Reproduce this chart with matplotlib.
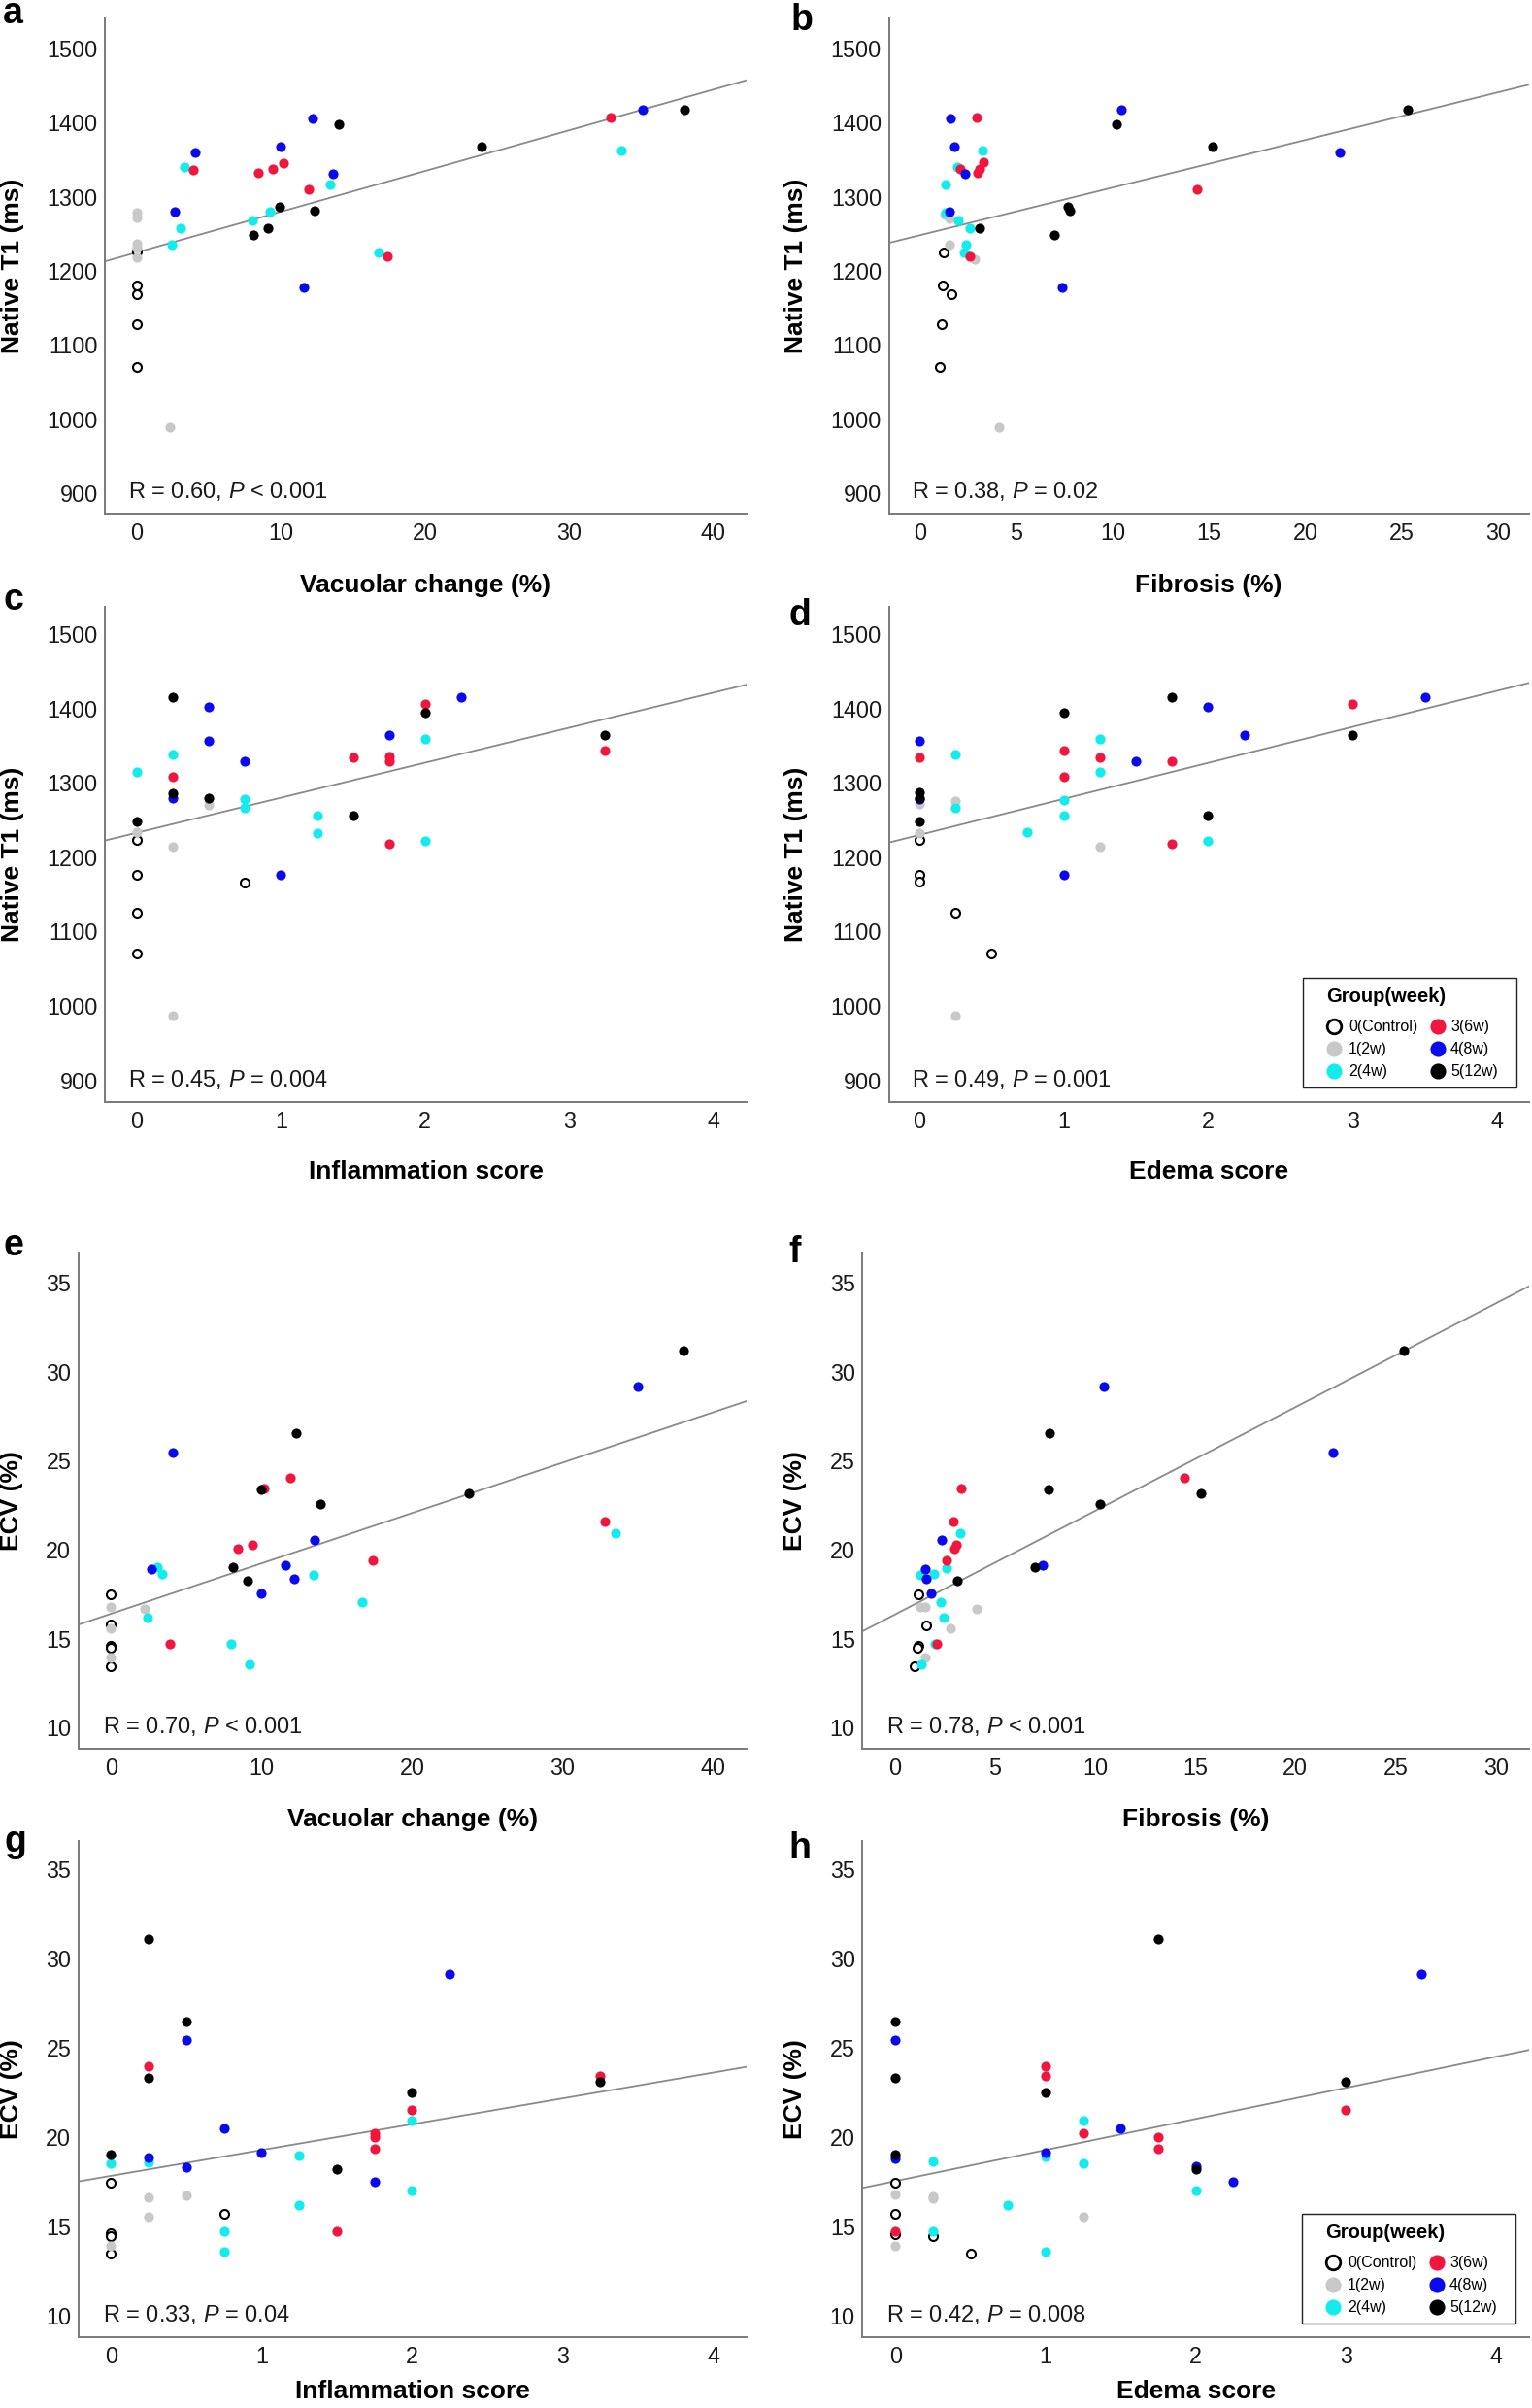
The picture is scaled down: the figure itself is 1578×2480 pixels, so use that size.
import numpy as np
import matplotlib
matplotlib.use("Agg")
from matplotlib import pyplot as plt
from matplotlib.patches import Rectangle

plt.rcParams['font.family'] = ['Liberation Sans', 'DejaVu Sans']
plt.rcParams['mathtext.fontset'] = 'custom'
plt.rcParams['mathtext.rm'] = 'Liberation Sans'
plt.rcParams['mathtext.it'] = 'Liberation Sans:italic'

# group codes: 0 control, 1 = 2w, 2 = 4w, 3 = 6w, 4 = 8w, 5 = 12w
group_names = ['0(Control)', '1(2w)', '2(4w)', '3(6w)', '4(8w)', '5(12w)']
group_colors = ['white', '#c8c8c8', '#12ecec', '#f0163e', '#0a0aee', '#000000']

# ---- a: vacuolar change vs native T1
a_x = [0, 0, 0, 0, 0,
       0, 0, 0, 0, 0, 2.3,
       3.3, 3.0, 2.4, 8.0, 9.2, 13.4, 16.75, 33.6,
       3.9, 8.4, 9.4, 10.2, 11.9, 17.4, 32.9,
       4.05, 2.65, 10.0, 12.2, 13.6, 11.6, 35.1,
       8.1, 9.1, 9.9, 12.3, 14.0, 23.9, 38.0]
a_y = [1226, 1180, 1169, 1128, 1071,
       1278, 1272, 1236, 1231, 1218, 989,
       1340, 1257, 1235, 1268, 1280, 1317, 1225, 1362,
       1336, 1332, 1337, 1345, 1310, 1220, 1407,
       1359, 1280, 1367, 1405, 1331, 1178, 1417,
       1249, 1258, 1287, 1281, 1397, 1367, 1417]
a_g = [0, 0, 0, 0, 0,
       1, 1, 1, 1, 1, 1,
       2, 2, 2, 2, 2, 2, 2, 2,
       3, 3, 3, 3, 3, 3, 3,
       4, 4, 4, 4, 4, 4, 4,
       5, 5, 5, 5, 5, 5, 5]

# ---- b: fibrosis vs native T1
b_x = [1.25, 1.2, 1.65, 1.15, 1.05,
       1.3, 1.55, 1.55, 2.85, 4.1,
       3.25, 1.95, 1.35, 1.35, 2.0, 2.6, 2.4, 2.3,
       2.95, 2.1, 3.0, 3.1, 3.3, 2.6, 14.4,
       1.6, 1.8, 2.35, 1.55, 10.45, 7.4, 21.8,
       3.1, 7.0, 7.7, 7.8, 10.2, 15.2, 25.3]
b_y = [1225, 1180, 1168, 1128, 1071,
       1276, 1271, 1235, 1216, 989,
       1362, 1340, 1317, 1279, 1268, 1257, 1235, 1225,
       1407, 1337, 1332, 1338, 1346, 1220, 1310,
       1405, 1367, 1331, 1280, 1417, 1178, 1359,
       1258, 1249, 1287, 1281, 1397, 1367, 1417]
b_g = [0, 0, 0, 0, 0,
       1, 1, 1, 1, 1,
       2, 2, 2, 2, 2, 2, 2, 2,
       3, 3, 3, 3, 3, 3, 3,
       4, 4, 4, 4, 4, 4, 4,
       5, 5, 5, 5, 5, 5, 5]

# ---- c: inflammation score vs native T1
c_x = [0, 0, 0, 0, 0.75,
       0, 0.25, 0.25, 0.5,
       0, 0.25, 0.75, 0.75, 1.25, 1.25, 2.0, 2.0,
       0.25, 1.5, 1.75, 1.75, 1.75, 2.0, 3.25,
       0.25, 0.5, 0.5, 0.75, 1.0, 1.75, 2.25,
       0, 0.25, 0.25, 0.5, 1.5, 2.0, 3.25]
c_y = [1224, 1177, 1126, 1070, 1166,
       1234, 1214, 987, 1270,
       1315, 1338, 1278, 1266, 1256, 1233, 1359, 1222,
       1308, 1335, 1336, 1329, 1218, 1406, 1343,
       1279, 1403, 1357, 1329, 1176, 1365, 1415,
       1248, 1415, 1286, 1279, 1256, 1395, 1365]
c_g = [0, 0, 0, 0, 0,
       1, 1, 1, 1,
       2, 2, 2, 2, 2, 2, 2, 2,
       3, 3, 3, 3, 3, 3, 3,
       4, 4, 4, 4, 4, 4, 4,
       5, 5, 5, 5, 5, 5, 5]

# ---- d: edema score vs native T1
d_x = [0, 0, 0, 0.25, 0.5,
       0, 0, 0.25, 1.25, 0.25,
       0.25, 0.25, 0.75, 1, 1, 1.25, 1.25, 2,
       0, 1, 1, 1.25, 1.75, 1.75, 3,
       0, 0, 1, 1.5, 2, 2.25, 3.5,
       0, 0, 0, 1, 1.75, 2, 3]
d_y = [1224, 1177, 1167, 1126, 1070,
       1272, 1232, 1276, 1214, 987,
       1338, 1266, 1234, 1277, 1256, 1359, 1315, 1222,
       1335, 1343, 1308, 1335, 1329, 1218, 1406,
       1357, 1278, 1176, 1329, 1403, 1365, 1415,
       1287, 1279, 1248, 1395, 1415, 1256, 1365]
d_g = [0, 0, 0, 0, 0,
       1, 1, 1, 1, 1,
       2, 2, 2, 2, 2, 2, 2, 2,
       3, 3, 3, 3, 3, 3, 3,
       4, 4, 4, 4, 4, 4, 4,
       5, 5, 5, 5, 5, 5, 5]

# ---- e: vacuolar change vs ECV
e_x = [0, 0, 0, 0, 0,
       0, 0, 0, 2.25,
       2.45, 3.05, 3.4, 8.0, 9.2, 13.45, 16.7, 33.5,
       3.9, 8.4, 9.4, 10.15, 11.9, 17.4, 32.8,
       2.7, 4.1, 10.0, 11.6, 12.2, 13.55, 35.0,
       8.1, 9.1, 9.95, 12.3, 13.9, 23.8, 38.0]
e_y = [17.46, 15.78, 14.6, 14.5, 13.47,
       16.75, 15.56, 13.94, 16.68,
       16.2, 19.0, 18.64, 14.72, 13.58, 18.56, 17.05, 20.93,
       14.72, 20.07, 20.24, 23.43, 24.03, 19.37, 21.57,
       18.88, 25.47, 17.54, 19.14, 18.34, 20.52, 29.16,
       19.0, 18.25, 23.36, 26.53, 22.54, 23.15, 31.16]
e_g = [0, 0, 0, 0, 0,
       1, 1, 1, 1,
       2, 2, 2, 2, 2, 2, 2, 2,
       3, 3, 3, 3, 3, 3, 3,
       4, 4, 4, 4, 4, 4, 4,
       5, 5, 5, 5, 5, 5, 5]

# ---- f: fibrosis vs ECV
f_x = [1.2, 1.6, 1.2, 1.15, 1.0,
       1.3, 1.55, 2.8, 1.55, 4.1,
       1.3, 1.95, 2.6, 2.3, 2.45, 2.0, 1.35, 3.25,
       2.1, 2.6, 3.0, 3.1, 2.95, 3.3, 14.45,
       1.55, 1.6, 1.8, 2.35, 7.4, 10.45, 21.85,
       3.15, 7.0, 7.75, 7.7, 10.25, 15.3, 25.4]
f_y = [17.46, 15.73, 14.59, 14.48, 13.47,
       16.75, 16.75, 15.56, 13.94, 16.64,
       18.58, 18.64, 18.97, 17.03, 16.2, 14.72, 13.58, 20.93,
       14.72, 19.37, 20.07, 20.24, 21.57, 23.43, 24.03,
       18.88, 18.34, 17.54, 20.52, 19.14, 29.16, 25.47,
       18.23, 19.0, 26.53, 23.36, 22.54, 23.15, 31.16]
f_g = [0, 0, 0, 0, 0,
       1, 1, 1, 1, 1,
       2, 2, 2, 2, 2, 2, 2, 2,
       3, 3, 3, 3, 3, 3, 3,
       4, 4, 4, 4, 4, 4, 4,
       5, 5, 5, 5, 5, 5, 5]

# ---- g: inflammation score vs ECV
g_x = [0, 0, 0, 0, 0.75,
       0, 0.25, 0.25, 0.5,
       0, 0.25, 0.75, 0.75, 1.25, 1.25, 2.0, 2.0,
       0.25, 1.5, 1.75, 1.75, 1.75, 2.0, 3.25,
       0.25, 0.5, 0.5, 0.75, 1.0, 1.75, 2.25,
       0, 0.25, 0.25, 0.5, 1.5, 2.0, 3.25]
g_y = [17.42, 14.61, 14.46, 13.45, 15.71,
       13.93, 16.62, 15.54, 16.75,
       18.5, 18.59, 14.7, 13.55, 18.95, 16.18, 20.91, 17.02,
       23.98, 14.7, 20.2, 20.0, 19.35, 21.53, 23.43,
       18.84, 25.42, 18.29, 20.47, 19.1, 17.51, 29.1,
       18.99, 31.09, 23.32, 26.48, 18.21, 22.48, 23.11]
g_g = [0, 0, 0, 0, 0,
       1, 1, 1, 1,
       2, 2, 2, 2, 2, 2, 2, 2,
       3, 3, 3, 3, 3, 3, 3,
       4, 4, 4, 4, 4, 4, 4,
       5, 5, 5, 5, 5, 5, 5]

# ---- h: edema score vs ECV
h_x = [0, 0, 0, 0.25, 0.5,
       0, 0.25, 0.25, 0, 1.25,
       0.25, 0.25, 0.75, 1.0, 1.0, 1.25, 1.25, 2.0,
       0, 1.0, 1.0, 1.25, 1.75, 1.75, 3.0,
       0, 0, 1.0, 1.5, 2.0, 2.25, 3.5,
       0, 0, 0, 1.0, 1.75, 2.0, 3.0]
h_y = [17.42, 15.71, 14.55, 14.44, 13.45,
       16.77, 16.68, 16.58, 13.93, 15.54,
       18.61, 14.7, 16.18, 18.93, 13.55, 20.89, 18.5, 17.02,
       14.7, 23.98, 23.39, 20.2, 20.0, 19.35, 21.53,
       18.8, 25.42, 19.14, 20.47, 18.36, 17.51, 29.1,
       26.48, 23.32, 18.99, 22.48, 31.09, 18.21, 23.11]
h_g = [0, 0, 0, 0, 0,
       1, 1, 1, 1, 1,
       2, 2, 2, 2, 2, 2, 2, 2,
       3, 3, 3, 3, 3, 3, 3,
       4, 4, 4, 4, 4, 4, 4,
       5, 5, 5, 5, 5, 5, 5]

# regression lines: (intercept, slope)
fits = {'a': (1225, 5.48), 'b': (1248, 6.42), 'c': (1233, 47.1), 'd': (1230, 48.5),
        'e': (16.39, 0.283), 'f': (16.34, 0.583), 'g': (17.82, 1.445), 'h': (17.53, 1.739)}
stats = {'a': ('0.60', '<', '0.001'), 'b': ('0.38', '=', '0.02'),
         'c': ('0.45', '=', '0.004'), 'd': ('0.49', '=', '0.001'),
         'e': ('0.70', '<', '0.001'), 'f': ('0.78', '<', '0.001'),
         'g': ('0.33', '=', '0.04'), 'h': ('0.42', '=', '0.008')}

t1_ticks = [900, 1000, 1100, 1200, 1300, 1400, 1500]
ecv_ticks = [10, 15, 20, 25, 30, 35]
vac_ticks = [0, 10, 20, 30, 40]
fib_ticks = [0, 5, 10, 15, 20, 25, 30]
score_ticks = [0, 1, 2, 3, 4]

W, H = 1578, 2480

panels = [
    ('a', a_x, a_y, a_g, [0.0687, 0.7867, 0.4184, 0.2056], (-2.2, 42.3), (873, 1540), vac_ticks, t1_ticks,
     'Vacuolar change (%)', 'Native T1 (ms)', (0.002, 0.9902)),
    ('b', b_x, b_y, b_g, [0.5802, 0.7867, 0.4178, 0.2056], (-1.6, 31.6), (873, 1540), fib_ticks, t1_ticks,
     'Fibrosis (%)', 'Native T1 (ms)', (0.516, 0.9875)),
    ('c', c_x, c_y, c_g, [0.0687, 0.5423, 0.4184, 0.2057], (-0.22, 4.23), (870.5, 1537), score_ticks, t1_ticks,
     'Inflammation score', 'Native T1 (ms)', (0.002, 0.7468)),
    ('d', d_x, d_y, d_g, [0.5802, 0.5423, 0.4178, 0.2057], (-0.21, 4.22), (870.5, 1537), score_ticks, t1_ticks,
     'Edema score', 'Native T1 (ms)', (0.515, 0.7403)),
    ('e', e_x, e_y, e_g, [0.0513, 0.2738, 0.4358, 0.2060], (-2.15, 42.2), (8.81, 36.68), vac_ticks, ecv_ticks,
     'Vacuolar change (%)', 'ECV (%)', (0.002, 0.4788)),
    ('f', f_x, f_y, f_g, [0.5630, 0.2738, 0.4350, 0.2060], (-1.6, 31.65), (8.81, 36.68), fib_ticks, ecv_ticks,
     'Fibrosis (%)', 'ECV (%)', (0.515, 0.4758)),
    ('g', g_x, g_y, g_g, [0.0513, 0.0294, 0.4358, 0.2059], (-0.215, 4.22), (8.79, 36.54), score_ticks, ecv_ticks,
     'Inflammation score', 'ECV (%)', (0.003, 0.2310)),
    ('h', h_x, h_y, h_g, [0.5630, 0.0294, 0.4350, 0.2059], (-0.22, 4.22), (8.79, 36.54), score_ticks, ecv_ticks,
     'Edema score', 'ECV (%)', (0.515, 0.2282)),
]

xlabel_y = {'a': -0.122, 'b': -0.122, 'c': -0.118, 'd': -0.118, 'e': -0.12, 'f': -0.12, 'g': -0.086, 'h': -0.086}


def draw_legend(ax, rect, left_px, bottom_px):
    # hand-built legend box, sizes in pixels from the box's top-left corner
    aw, ah = rect[2] * W, rect[3] * H
    bw, bh = 220, 113
    top_px = bottom_px + bh

    def pos(dx, dy):
        return (left_px + dx) / aw, (top_px - dy) / ah

    x0, y0 = pos(0, bh)
    ax.add_patch(Rectangle((x0, y0), bw / aw, bh / ah, transform=ax.transAxes, fill=True,
                           facecolor='white', edgecolor='#222222', lw=1.0, zorder=20, clip_on=False))
    tx, ty = pos(24, 19)
    ax.text(tx, ty, 'Group(week)', transform=ax.transAxes, fontsize=14.5, fontweight='bold',
            va='center', ha='left', zorder=21)
    cols = [(32, 47), (139, 152)]
    rows = [50, 73, 96]
    for gi in range(6):
        mx, lx = cols[gi // 3]
        ry = rows[gi % 3]
        px, py = pos(mx, ry)
        if gi == 0:
            ax.scatter([px], [py], s=110, facecolor='white', edgecolor='black', linewidth=2,
                       transform=ax.transAxes, zorder=22, clip_on=False)
        else:
            ax.scatter([px], [py], s=135, color=group_colors[gi], linewidth=0,
                       transform=ax.transAxes, zorder=22, clip_on=False)
        qx, qy = pos(lx, ry)
        ax.text(qx, qy, group_names[gi], transform=ax.transAxes, fontsize=11.5,
                va='center', ha='left', zorder=22)


fig = plt.figure(figsize=(W / 100, H / 100), dpi=100)

for key, xs, ys, gs, rect, xlim, ylim, xt, yt, xlab, ylab, letter_pos in panels:
    ax = fig.add_axes(rect)
    xs = np.array(xs)
    ys = np.array(ys)
    gs = np.array(gs)
    b0, b1 = fits[key]
    lx = np.array(xlim)
    ax.plot(lx, b0 + b1 * lx, color='#8a8a8a', lw=1.3, zorder=1)
    for gi in range(6):
        m = gs == gi
        if gi == 0:
            ax.scatter(xs[m], ys[m], s=42, facecolor='white', edgecolor='black', linewidth=1.5, zorder=2)
        else:
            ax.scatter(xs[m], ys[m], s=54, color=group_colors[gi], linewidth=0, zorder=2 + gi)
    ax.set_xlim(xlim)
    ax.set_ylim(ylim)
    ax.set_xticks(xt)
    ax.set_yticks(yt)
    for s in ['top', 'right']:
        ax.spines[s].set_visible(False)
    for s in ['left', 'bottom']:
        ax.spines[s].set_color('#7a7a7a')
        ax.spines[s].set_linewidth(1.4)
    ax.tick_params(length=0, labelsize=16.8, colors='#1a1a1a')
    ax.tick_params(axis='x', pad=6.5)
    ax.tick_params(axis='y', pad=5.5)
    ax.set_xlabel(xlab, fontsize=19, fontweight='bold')
    ax.set_ylabel(ylab, fontsize=19, fontweight='bold')
    ax.yaxis.set_label_coords(-0.127 if ylab.startswith('Native') else -0.083, 0.5)
    ax.xaxis.set_label_coords(0.5, xlabel_y[key])
    r, op, p = stats[key]
    ax.text(0.036, 0.032, r'R = %s, $\mathit{P}$ %s %s' % (r, op, p), transform=ax.transAxes,
            fontsize=17, va='baseline', ha='left', color='#1a1a1a')
    fig.text(letter_pos[0], letter_pos[1], key, fontsize=27, fontweight='bold',
             va='baseline', ha='left')

    if key == 'd':
        draw_legend(ax, rect, 1342 - rect[0] * W, 15)
    if key == 'h':
        draw_legend(ax, rect, 1341 - rect[0] * W, 14)

fig.savefig('out.png', dpi=100)
